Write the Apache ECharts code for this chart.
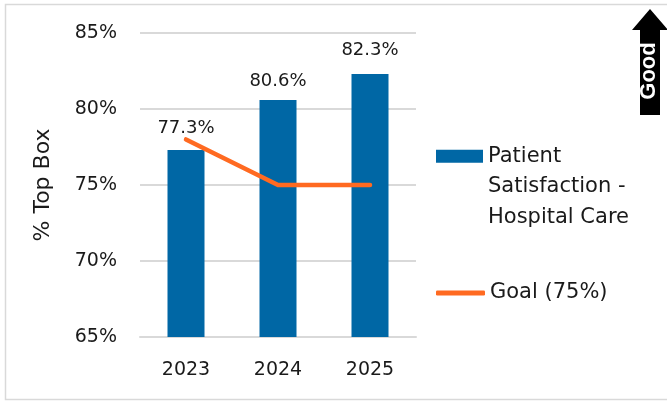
<!DOCTYPE html>
<html>
<head>
<meta charset="utf-8">
<style>
  html, body { margin: 0; padding: 0; background: #fff; }
  #chart { width: 667px; height: 401px; }
</style>
<script src="https://cdn.jsdelivr.net/npm/echarts@6/dist/echarts.min.js"></script>
</head>
<body>
<div id="chart"></div>
<script>
// Patient satisfaction (% top box) against the yearly goal
const years = ['2023', '2024', '2025'];
const satisfaction = [77.3, 80.6, 82.3];
const goal = [78, 75, 75];
const yTicks = { min: 65, max: 85, step: 5 };

const FONT = '"DejaVu Sans", sans-serif';
const TEXT = '#1a1a1a';
const BLUE = '#0067a5';
const ORANGE = '#ff6a21';
const GRID_LINE = '#d9d9d9';

// extra lift for each value label above its bar
const labelLift = [13, 10, 15];

const chart = echarts.init(document.getElementById('chart'), null, { renderer: 'canvas' });

chart.setOption({
  animation: false,
  backgroundColor: '#fff',
  grid: { left: 140, right: 251, top: 33, bottom: 64, containLabel: false },
  xAxis: {
    type: 'category',
    data: years,
    axisLine: { show: true, lineStyle: { color: GRID_LINE, width: 2 } },
    axisTick: { show: false },
    axisLabel: { color: TEXT, fontFamily: FONT, fontSize: 19, margin: 24 }
  },
  yAxis: {
    type: 'value',
    min: yTicks.min,
    max: yTicks.max,
    interval: yTicks.step,
    name: '% Top Box',
    nameLocation: 'middle',
    nameRotate: 90,
    nameGap: 86,
    nameTextStyle: { color: TEXT, fontFamily: FONT, fontSize: 22 },
    axisLine: { show: false },
    axisTick: { show: false },
    splitLine: { lineStyle: { color: GRID_LINE, width: 2 } },
    axisLabel: { color: TEXT, fontFamily: FONT, fontSize: 19, margin: 23, formatter: '{value}%' }
  },
  legend: [
    {
      left: 436, top: 80, padding: 0, orient: 'vertical',
      itemWidth: 47, itemHeight: 13, itemGap: 0,
      data: [{ name: 'Patient\nSatisfaction -\nHospital Care', icon: 'rect' }],
      // two leading blank lines keep the swatch level with the first line
      formatter: name => '\n\n' + name,
      textStyle: { color: TEXT, fontFamily: FONT, fontSize: 21, lineHeight: 30.5 },
      selectedMode: false
    },
    {
      left: 436, top: 281, padding: 0, orient: 'vertical',
      itemWidth: 49, itemHeight: 5,
      data: [{ name: 'Goal (75%)', icon: 'roundRect' }],
      textStyle: { color: TEXT, fontFamily: FONT, fontSize: 21, lineHeight: 24 },
      selectedMode: false
    }
  ],
  series: [
    {
      name: 'Patient\nSatisfaction -\nHospital Care',
      type: 'bar',
      barWidth: 37,
      itemStyle: { color: BLUE },
      data: satisfaction.map((v, i) => ({
        value: v,
        label: { distance: labelLift[i] }
      })),
      label: {
        show: true,
        position: 'top',
        color: TEXT,
        fontFamily: FONT,
        fontSize: 18,
        formatter: p => p.value.toFixed(1) + '%'
      },
      z: 2
    },
    {
      name: 'Goal (75%)',
      type: 'line',
      data: goal,
      symbol: 'none',
      itemStyle: { color: ORANGE },
      lineStyle: { color: ORANGE, width: 4.5, cap: 'round', join: 'round' },
      z: 3
    }
  ],
  graphic: [
    {
      type: 'rect',
      silent: true,
      shape: { x: 5.5, y: 4.5, width: 670, height: 395 },
      style: { fill: 'none', stroke: GRID_LINE, lineWidth: 1.5 },
      z: -1
    },
    {
      type: 'polygon',
      silent: true,
      shape: { points: [[650, 9], [668, 30], [660, 30], [660, 115], [640, 115], [640, 30], [632, 30]] },
      style: { fill: '#000' }
    },
    {
      type: 'text',
      silent: true,
      x: 649,
      y: 71,
      rotation: Math.PI / 2,
      style: {
        text: 'Good',
        fill: '#fff',
        font: 'bold 22px "Liberation Sans", Arial, sans-serif',
        align: 'center',
        verticalAlign: 'middle'
      }
    }
  ]
});
</script>
</body>
</html>
